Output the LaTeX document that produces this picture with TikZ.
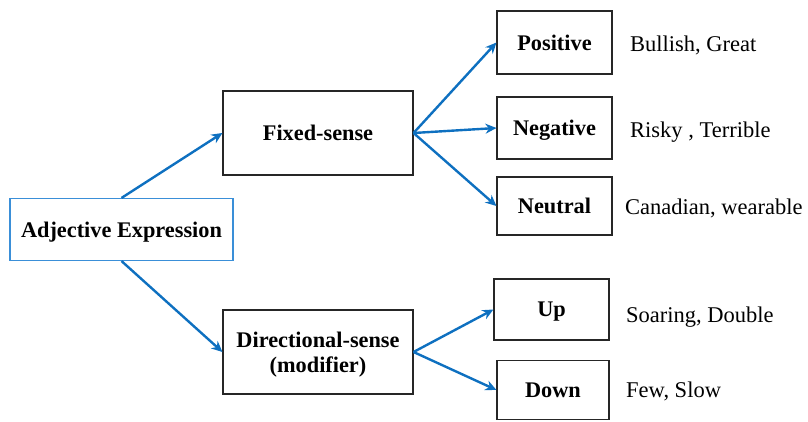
\documentclass[tikz,border=0pt]{standalone}
\usepackage{fontspec}
\setmainfont{Liberation Serif}
\usetikzlibrary{arrows.meta}
\definecolor{arrowblue}{HTML}{0E70C0}
\definecolor{boxblue}{HTML}{3A8FD8}
\tikzset{
  box/.style={draw=black!85, line width=1.1pt, fill=white, inner sep=0pt, align=center,
    text depth=0pt, font=\fontsize{22.3}{25}\selectfont\bfseries},
  adjbox/.style={box, draw=boxblue},
  lbl/.style={anchor=west, inner sep=0pt, text depth=0pt, font=\fontsize{22.5}{25}\selectfont},
  arr/.style={draw=arrowblue, line width=2.4pt, -{Stealth[length=11pt,width=10pt]}}
}
\begin{document}
\begin{tikzpicture}[x=1pt,y=-1pt]
\useasboundingbox (0,0) rectangle (808,422);
\node[adjbox, minimum width=223pt, minimum height=62pt] (adj) at (121.5,229.5) {Adjective Expression};
\node[box, minimum width=190pt, minimum height=84pt] (fix) at (318,133) {Fixed-sense};
\node[box, minimum width=190pt, minimum height=84pt] (dir) at (318,352) {Directional-sense\\(modifier)};
\node[box, minimum width=115pt, minimum height=63pt] (pos) at (554.5,42.5) {Positive};
\node[box, minimum width=115pt, minimum height=62pt] (neg) at (554.5,128) {Negative};
\node[box, minimum width=115pt, minimum height=58pt] (neu) at (554.5,206) {Neutral};
\node[box, minimum width=115pt, minimum height=61pt] (up) at (551.5,309.5) {Up};
\node[box, minimum width=112pt, minimum height=59pt] (down) at (553,390) {Down};
\node[lbl] (lpos) at (630,44) {Bullish, Great};
\node[lbl] (lneg) at (630,130) {Risky , Terrible};
\node[lbl] (lneu) at (625,207) {Canadian, wearable};
\node[lbl] (lup) at (626,315) {Soaring, Double};
\node[lbl] (ldown) at (626,390) {Few, Slow};
\draw[arr] (adj.north) -- (fix.west);
\draw[arr] (adj.south) -- (dir.west);
\draw[arr] (fix.east) -- (pos.west);
\draw[arr] (fix.east) -- (neg.west);
\draw[arr] (fix.east) -- (neu.west);
\draw[arr] (dir.east) -- (up.west);
\draw[arr] (dir.east) -- (down.west);
\end{tikzpicture}
\end{document}
